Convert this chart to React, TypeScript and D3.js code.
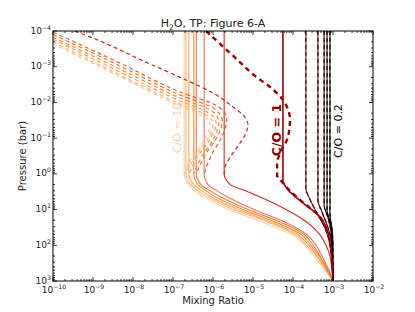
import * as d3 from "d3";
import React from "react";

const W = 415;
const H = 312;
const plot = { left: 53, top: 31, right: 373, bottom: 281 };

const xDecades = [-10, -9, -8, -7, -6, -5, -4, -3, -2];
const yDecades = [-4, -3, -2, -1, 0, 1, 2, 3];

// pressures (bar) shared by the orange-family solid profiles
const solidPressures = [1e-4, 1, 2, 3, 5, 10, 20, 50, 100, 200, 500, 1000];

// mixing ratios for the C/O > 1 solid profiles, lightest (C/O = 10) first
const orangeSolids = [
  [1.9e-7, 1.9e-7, 2.5e-7, 3.5e-7, 7.1e-7, 2.4e-6, 1.3e-5, 9.4e-5, 2.0e-4, 3.3e-4, 6.3e-4, 1e-3],
  [2.1e-7, 2.1e-7, 2.8e-7, 4.2e-7, 8.9e-7, 3.2e-6, 1.8e-5, 1.1e-4, 2.2e-4, 3.8e-4, 6.7e-4, 1e-3],
  [2.5e-7, 2.5e-7, 3.3e-7, 5.3e-7, 1.1e-6, 4.2e-6, 2.2e-5, 1.3e-4, 2.5e-4, 4.0e-4, 7.1e-4, 1e-3],
  [3.3e-7, 3.3e-7, 4.2e-7, 6.7e-7, 1.4e-6, 5.6e-6, 2.8e-5, 1.6e-4, 2.8e-4, 4.5e-4, 7.1e-4, 1e-3],
  [3.8e-7, 3.8e-7, 5.0e-7, 8.4e-7, 1.9e-6, 7.5e-6, 3.8e-5, 1.9e-4, 3.2e-4, 4.7e-4, 7.5e-4, 1e-3],
  [6.0e-7, 6.0e-7, 7.5e-7, 1.26e-6, 2.8e-6, 1.06e-5, 5.0e-5, 2.2e-4, 3.8e-4, 5.3e-4, 7.9e-4, 1e-3],
  [1.9e-6, 1.9e-6, 2.7e-6, 6.7e-6, 1.9e-5, 6.7e-5, 1.9e-4, 4.7e-4, 6.7e-4, 8.4e-4, 9.4e-4, 1e-3],
];
const orangeColors = ["#fdd0a2", "#fdb77a", "#fda35a", "#fd8d3c", "#f67a26", "#f07058", "#d42a1c"];

// dashed profiles [mixing ratio, pressure] for the same C/O values
const orangeDashed: [number, number][][] = [
  [[1e-10, 2.3e-4], [4.7e-9, 1.9e-3], [1.5e-7, 0.0126], [5.6e-7, 0.024], [8.4e-7, 0.043], [6.0e-7, 0.113], [3.0e-7, 0.34], [1.9e-7, 1]],
  [[1e-10, 2.0e-4], [4.7e-9, 1.7e-3], [1.5e-7, 0.011], [6.7e-7, 0.0225], [1.0e-6, 0.04], [7.1e-7, 0.113], [3.5e-7, 0.34], [2.1e-7, 1]],
  [[1e-10, 1.7e-4], [4.7e-9, 1.4e-3], [1.5e-7, 9.1e-3], [7.9e-7, 0.0198], [1.2e-6, 0.038], [8.4e-7, 0.106], [4.2e-7, 0.32], [2.5e-7, 1]],
  [[1e-10, 1.5e-4], [4.7e-9, 1.16e-3], [1.5e-7, 7.5e-3], [9.4e-7, 0.0174], [1.4e-6, 0.035], [1.06e-6, 0.099], [5.3e-7, 0.32], [3.3e-7, 1]],
  [[1e-10, 1.25e-4], [4.7e-9, 9.5e-4], [1.5e-7, 6.2e-3], [1.1e-6, 0.0153], [1.7e-6, 0.033], [1.26e-6, 0.093], [6.3e-7, 0.3], [3.8e-7, 1]],
  [[1e-10, 1.07e-4], [4.7e-9, 7.9e-4], [1.5e-7, 5.1e-3], [1.4e-6, 0.0134], [2.2e-6, 0.029], [1.7e-6, 0.087], [9.4e-7, 0.28], [6.0e-7, 1]],
  [[3.5e-10, 1e-4], [1.5e-9, 1.9e-4], [1.8e-8, 6.9e-4], [2.2e-7, 2.4e-3], [1.1e-6, 5.8e-3], [3.2e-6, 0.0134], [6.3e-6, 0.026], [7.5e-6, 0.043], [6.3e-6, 0.082], [4.2e-6, 0.166], [2.7e-6, 0.34], [2.0e-6, 0.64], [1.9e-6, 1.08]],
];
const orangeDashColors = ["#fdc48f", "#fdae6b", "#fd9a4e", "#fb8535", "#f4701f", "#ec5a2a", "#cc2418"];

// C/O = 1
const unitySolid: [number, number][] = [
  [5.6e-5, 1e-4], [5.6e-5, 1.5], [7.5e-5, 2.8], [1.8e-4, 6.6], [4.7e-4, 16], [7.1e-4, 37], [8.9e-4, 136], [1e-3, 1000],
];
const unityDashed: [number, number][] = [
  [6.7e-7, 1e-4], [3.2e-6, 5e-4], [1.12e-5, 1.8e-3], [2.66e-5, 3.7e-3], [5.6e-5, 8.5e-3], [8.4e-5, 0.031],
  [7.5e-5, 0.093], [5.3e-5, 0.21], [4e-5, 0.5], [4e-5, 1.08], [5.6e-5, 1.8], [8.4e-5, 3.0], [1.5e-4, 5.4],
  [4.7e-4, 16], [7.1e-4, 37],
];

// C/O < 1 down to 0.2
const darkProfiles: [number, number][][] = [
  [[2.1e-4, 1e-4], [2.1e-4, 2.5], [2.7e-4, 5.4], [4.2e-4, 14], [6.3e-4, 33], [8.4e-4, 98], [1e-3, 1000]],
  [[4.2e-4, 1e-4], [4.2e-4, 5.4], [5.3e-4, 11.7], [7.1e-4, 27], [8.9e-4, 71], [1e-3, 1000]],
  [[6e-4, 1e-4], [6e-4, 7.5], [7.5e-4, 17], [8.9e-4, 43], [1e-3, 1000]],
  [[7.1e-4, 1e-4], [7.1e-4, 10.3], [8.4e-4, 22], [9.4e-4, 52], [1e-3, 1000]],
  [[8.4e-4, 1e-4], [8.4e-4, 14], [9.4e-4, 33], [1e-3, 98], [1e-3, 1000]],
];
const darkColors = ["#8a0a0a", "#660000", "#470000", "#2a0000", "#000000"];
const darkDashColors = ["#4a0000", "#3a0000", "#200000", "#000000", "#000000"];

const font = "DejaVu Sans, sans-serif";

function Pow10({ x, y, exp, anchor }: { x: number; y: number; exp: number; anchor: string }) {
  const label = exp < 0 ? `\u2212${-exp}` : `${exp}`;
  return (
    <text x={x} y={y} textAnchor={anchor} fontSize={9} fill="#222">
      10
      <tspan dy={-4} fontSize={6.2}>
        {label}
      </tspan>
    </text>
  );
}

export default function App() {
  const x = d3.scaleLog().domain([1e-10, 1e-2]).range([plot.left, plot.right]);
  const y = d3.scaleLog().domain([1e-4, 1e3]).range([plot.top, plot.bottom]);

  const line = d3
    .line<[number, number]>()
    .x((d) => x(d[0]))
    .y((d) => y(d[1]))
    .curve(d3.curveMonotoneY);

  const minorX: number[] = [];
  xDecades.slice(0, -1).forEach((e) => {
    for (let m = 2; m <= 9; m++) minorX.push(m * Math.pow(10, e));
  });
  const minorY: number[] = [];
  yDecades.slice(0, -1).forEach((e) => {
    for (let m = 2; m <= 9; m++) minorY.push(m * Math.pow(10, e));
  });

  return (
    <svg width={W} height={H} style={{ position: "absolute", left: 0, top: 0, background: "#fff" }} fontFamily={font}>
      <defs>
        <clipPath id="plotClip">
          <rect x={plot.left} y={plot.top} width={plot.right - plot.left} height={plot.bottom - plot.top} />
        </clipPath>
      </defs>

      <g clipPath="url(#plotClip)" fill="none">
        {orangeSolids.map((vals, i) => (
          <path
            key={`os${i}`}
            d={line(vals.map((v, j) => [v, solidPressures[j]] as [number, number])) || ""}
            stroke={orangeColors[i]}
            strokeWidth={1.1}
          />
        ))}
        {orangeDashed.map((pts, i) => (
          <path key={`od${i}`} d={line(pts) || ""} stroke={orangeDashColors[i]} strokeWidth={1.2} strokeDasharray="4,3" />
        ))}
        {darkProfiles.map((pts, i) => (
          <path key={`ds${i}`} d={line(pts) || ""} stroke={darkColors[i]} strokeWidth={1.1} />
        ))}
        {darkProfiles.map((pts, i) => (
          <path key={`dd${i}`} d={line(pts) || ""} stroke={darkDashColors[i]} strokeWidth={1.1} strokeDasharray="4,3" />
        ))}
        <path d={line(unitySolid) || ""} stroke="#a00000" strokeWidth={1.6} />
        <path d={line(unityDashed) || ""} stroke="#9b0000" strokeWidth={2.4} strokeDasharray="5,4" />
      </g>

      {/* ticks */}
      <g stroke="#000" strokeWidth={0.8}>
        {xDecades.map((e) => {
          const px = x(Math.pow(10, e));
          return (
            <g key={`xt${e}`}>
              <line x1={px} x2={px} y1={plot.bottom} y2={plot.bottom - 4} />
              <line x1={px} x2={px} y1={plot.top} y2={plot.top + 4} />
            </g>
          );
        })}
        {minorX.map((v, i) => (
          <g key={`xm${i}`}>
            <line x1={x(v)} x2={x(v)} y1={plot.bottom} y2={plot.bottom - 2} />
            <line x1={x(v)} x2={x(v)} y1={plot.top} y2={plot.top + 2} />
          </g>
        ))}
        {yDecades.map((e) => {
          const py = y(Math.pow(10, e));
          return (
            <g key={`yt${e}`}>
              <line x1={plot.left} x2={plot.left + 4} y1={py} y2={py} />
              <line x1={plot.right} x2={plot.right - 4} y1={py} y2={py} />
            </g>
          );
        })}
        {minorY.map((v, i) => (
          <g key={`ym${i}`}>
            <line x1={plot.left} x2={plot.left + 2} y1={y(v)} y2={y(v)} />
            <line x1={plot.right} x2={plot.right - 2} y1={y(v)} y2={y(v)} />
          </g>
        ))}
      </g>

      <rect
        x={plot.left}
        y={plot.top}
        width={plot.right - plot.left}
        height={plot.bottom - plot.top}
        fill="none"
        stroke="#000"
        strokeWidth={1}
      />

      {xDecades.map((e) => (
        <Pow10 key={`xl${e}`} x={x(Math.pow(10, e)) + 1} y={293} exp={e} anchor="middle" />
      ))}
      {yDecades.map((e) => (
        <Pow10 key={`yl${e}`} x={plot.left - 2} y={y(Math.pow(10, e)) + 2.5} exp={e} anchor="end" />
      ))}

      <text x={(plot.left + plot.right) / 2} y={304} textAnchor="middle" fontSize={10} fill="#222">
        Mixing Ratio
      </text>
      <text
        transform={`translate(26,${(plot.top + plot.bottom) / 2}) rotate(-90)`}
        textAnchor="middle"
        fontSize={10}
        fill="#222"
      >
        Pressure (bar)
      </text>
      <text x={(plot.left + plot.right) / 2} y={27} textAnchor="middle" fontSize={11} fill="#222">
        H
        <tspan dy={3} fontSize={7.5}>
          2
        </tspan>
        <tspan dy={-3}>O, TP: Figure 6-A</tspan>
      </text>

      <text transform="translate(181,128) rotate(-90)" textAnchor="middle" fontSize={11} fill="#fdd0a2">
        C/O = 10
      </text>
      <text transform="translate(281,130) rotate(-90)" textAnchor="middle" fontSize={12.5} fontWeight="bold" fill="#8b0000">
        C/O = 1
      </text>
      <text transform="translate(342,131) rotate(-90)" textAnchor="middle" fontSize={11} fill="#000">
        C/O = 0.2
      </text>
    </svg>
  );
}
